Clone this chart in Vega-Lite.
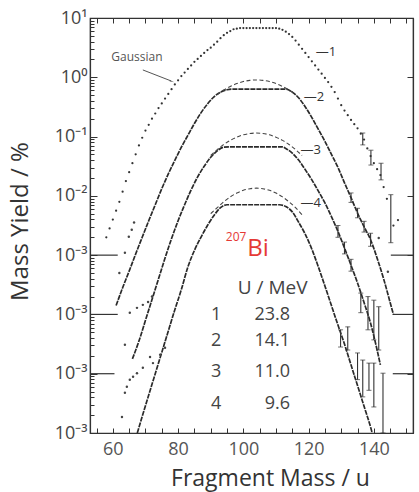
{
 "$schema": "https://vega.github.io/schema/vega-lite/v6.json",
 "width": 323, "height": 415,
 "autosize": {"type": "none"},
 "padding": {"left": 90, "top": 18, "right": 6, "bottom": 59},
 "background": "white",
 "config": {"view": {"stroke": "#333", "strokeWidth": 1.2}, "font": "Open Sans"},
 "datasets": {
  "c1": [
   {"m":58,"y":2.0e-3},{"m":59,"y":2.82e-3},{"m":60,"y":3.98e-3},{"m":61,"y":5.62e-3},{"m":62,"y":7.94e-3},
   {"m":63,"y":1.175e-2},{"m":64,"y":1.78e-2},{"m":65,"y":2.51e-2},{"m":66,"y":3.55e-2},{"m":67,"y":5.01e-2},
   {"m":68,"y":7.08e-2},{"m":69,"y":9.55e-2},{"m":70,"y":0.126},{"m":71,"y":0.158},{"m":72,"y":0.2},
   {"m":73,"y":0.245},{"m":74,"y":0.302},{"m":75,"y":0.363},{"m":76,"y":0.437},{"m":77,"y":0.525},
   {"m":78,"y":0.631},{"m":79,"y":0.759},{"m":80,"y":0.891},{"m":81,"y":1.047},{"m":82,"y":1.202},
   {"m":83,"y":1.38},{"m":84,"y":1.585},{"m":85,"y":1.82},{"m":86,"y":2.04},{"m":87,"y":2.29},
   {"m":88,"y":2.57},{"m":89,"y":2.88},{"m":90,"y":3.16},{"m":91,"y":3.55},{"m":92,"y":3.98},
   {"m":93,"y":4.57},{"m":94,"y":5.13},{"m":95,"y":5.62},{"m":96,"y":6.03},{"m":97,"y":6.46},
   {"m":98,"y":6.61},{"m":99,"y":6.76},{"m":100,"y":6.76},{"m":101,"y":6.76},{"m":102,"y":6.76},
   {"m":103,"y":6.76},{"m":104,"y":6.76},{"m":105,"y":6.76},{"m":106,"y":6.76},{"m":107,"y":6.76},
   {"m":108,"y":6.76},{"m":109,"y":6.76},{"m":110,"y":6.76},{"m":111,"y":6.61},{"m":112,"y":6.31},
   {"m":113,"y":5.89},{"m":114,"y":5.37},{"m":115,"y":4.79},{"m":116,"y":4.17},{"m":117,"y":3.55},
   {"m":118,"y":3.02},{"m":119,"y":2.57},{"m":120,"y":2.19},{"m":121,"y":1.86},{"m":122,"y":1.585},
   {"m":123,"y":1.35},{"m":124,"y":1.148},{"m":125,"y":0.977},{"m":126,"y":0.832},{"m":127,"y":0.692},
   {"m":128,"y":0.562},{"m":129,"y":0.437},{"m":130,"y":0.339},{"m":131,"y":0.275},{"m":132,"y":0.229},
   {"m":133,"y":0.191},{"m":134,"y":0.162},{"m":135,"y":0.138},{"m":136,"y":0.112},{"m":137,"y":0.0891},
   {"m":138,"y":0.0631},{"m":139,"y":0.0468},{"m":140,"y":0.0355},{"m":141,"y":0.0282},{"m":142,"y":0.0224},
   {"m":143,"y":0.0141},{"m":144,"y":8.91e-3},{"m":146,"y":3.16e-3},{"m":147.4,"y":3.9e-3}
  ],
  "fit": [
   {"c":2,"m":61,"y":1.41e-4},{"c":2,"m":63,"y":2.82e-4},{"c":2,"m":65,"y":5.37e-4},{"c":2,"m":67,"y":1.047e-3},
   {"c":2,"m":69,"y":2.0e-3},{"c":2,"m":71,"y":3.8e-3},{"c":2,"m":73,"y":7.08e-3},{"c":2,"m":75,"y":1.32e-2},
   {"c":2,"m":77,"y":2.34e-2},{"c":2,"m":79,"y":3.98e-2},{"c":2,"m":81,"y":6.61e-2},{"c":2,"m":83,"y":0.105},
   {"c":2,"m":85,"y":0.166},{"c":2,"m":87,"y":0.251},{"c":2,"m":89,"y":0.355},{"c":2,"m":91,"y":0.468},
   {"c":2,"m":93,"y":0.562},{"c":2,"m":95,"y":0.617},{"c":2,"m":97,"y":0.631},{"c":2,"m":105,"y":0.631},
   {"c":2,"m":113,"y":0.631},{"c":2,"m":115,"y":0.562},{"c":2,"m":117,"y":0.447},{"c":2,"m":119,"y":0.316},
   {"c":2,"m":121,"y":0.209},{"c":2,"m":123,"y":0.132},{"c":2,"m":125,"y":0.0832},{"c":2,"m":127,"y":0.0501},
   {"c":2,"m":129,"y":0.0302},{"c":2,"m":131,"y":0.0166},{"c":2,"m":133,"y":9.33e-3},{"c":2,"m":135,"y":5.13e-3},
   {"c":2,"m":137,"y":3.02e-3},{"c":2,"m":139,"y":1.82e-3},{"c":2,"m":141,"y":8.91e-4},{"c":2,"m":143,"y":3.98e-4},
   {"c":2,"m":145,"y":1.585e-4},{"c":2,"m":146,"y":1.0e-4},
   {"c":3,"m":66,"y":1.78e-5},{"c":3,"m":68,"y":3.55e-5},{"c":3,"m":70,"y":7.94e-5},{"c":3,"m":72,"y":1.78e-4},
   {"c":3,"m":74,"y":3.98e-4},{"c":3,"m":76,"y":8.91e-4},{"c":3,"m":78,"y":1.905e-3},{"c":3,"m":80,"y":3.8e-3},
   {"c":3,"m":82,"y":7.08e-3},{"c":3,"m":84,"y":1.26e-2},{"c":3,"m":86,"y":2.09e-2},{"c":3,"m":88,"y":3.16e-2},
   {"c":3,"m":90,"y":4.47e-2},{"c":3,"m":92,"y":5.75e-2},{"c":3,"m":94,"y":6.61e-2},{"c":3,"m":96,"y":6.68e-2},
   {"c":3,"m":104,"y":6.68e-2},{"c":3,"m":112,"y":6.68e-2},{"c":3,"m":113,"y":6.31e-2},{"c":3,"m":115,"y":5.25e-2},
   {"c":3,"m":117,"y":3.98e-2},{"c":3,"m":119,"y":2.75e-2},{"c":3,"m":121,"y":1.86e-2},{"c":3,"m":123,"y":1.2e-2},
   {"c":3,"m":125,"y":7.59e-3},{"c":3,"m":127,"y":4.47e-3},{"c":3,"m":129,"y":2.51e-3},{"c":3,"m":131,"y":1.32e-3},
   {"c":3,"m":133,"y":6.76e-4},{"c":3,"m":135,"y":3.39e-4},{"c":3,"m":137,"y":1.585e-4},{"c":3,"m":139,"y":7.08e-5},
   {"c":3,"m":141,"y":2.51e-5},{"c":3,"m":142,"y":1.41e-5},
   {"c":4,"m":67.5,"y":1.0e-6},{"c":4,"m":69,"y":1.905e-6},{"c":4,"m":71,"y":4.37e-6},{"c":4,"m":73,"y":1.0e-5},
   {"c":4,"m":75,"y":2.29e-5},{"c":4,"m":77,"y":5.25e-5},{"c":4,"m":79,"y":1.2e-4},{"c":4,"m":81,"y":2.63e-4},
   {"c":4,"m":83,"y":6.31e-4},{"c":4,"m":85,"y":1.2e-3},{"c":4,"m":87,"y":2.0e-3},{"c":4,"m":89,"y":3.16e-3},
   {"c":4,"m":91,"y":4.68e-3},{"c":4,"m":93,"y":6.31e-3},{"c":4,"m":95,"y":7.08e-3},{"c":4,"m":103,"y":7.08e-3},
   {"c":4,"m":111,"y":7.08e-3},{"c":4,"m":113,"y":6.61e-3},{"c":4,"m":115,"y":5.37e-3},{"c":4,"m":117,"y":3.55e-3},
   {"c":4,"m":119,"y":2.24e-3},{"c":4,"m":121,"y":1.26e-3},{"c":4,"m":123,"y":6.31e-4},{"c":4,"m":125,"y":3.02e-4},
   {"c":4,"m":127,"y":1.41e-4},{"c":4,"m":129,"y":6.61e-5},{"c":4,"m":131,"y":3.16e-5},{"c":4,"m":133,"y":1.41e-5},
   {"c":4,"m":135,"y":6.31e-6},{"c":4,"m":137,"y":2.82e-6},{"c":4,"m":139,"y":1.26e-6},{"c":4,"m":139.5,"y":1.0e-6}
  ],
  "gauss": [
   {"c":2,"m":92,"y":0.513},{"c":2,"m":94,"y":0.61},{"c":2,"m":96,"y":0.701},{"c":2,"m":98,"y":0.783},
   {"c":2,"m":100,"y":0.847},{"c":2,"m":102,"y":0.887},{"c":2,"m":104,"y":0.902},{"c":2,"m":106,"y":0.887},
   {"c":2,"m":108,"y":0.847},{"c":2,"m":110,"y":0.783},{"c":2,"m":112,"y":0.701},{"c":2,"m":114,"y":0.61},
   {"c":2,"m":116,"y":0.513},
   {"c":3,"m":90,"y":0.0479},{"c":3,"m":92,"y":0.0603},{"c":3,"m":94,"y":0.0735},{"c":3,"m":96,"y":0.0863},
   {"c":3,"m":98,"y":0.0977},{"c":3,"m":100,"y":0.107},{"c":3,"m":102,"y":0.1127},{"c":3,"m":104,"y":0.1148},
   {"c":3,"m":106,"y":0.1127},{"c":3,"m":108,"y":0.107},{"c":3,"m":110,"y":0.0977},{"c":3,"m":112,"y":0.0863},
   {"c":3,"m":114,"y":0.0735},{"c":3,"m":116,"y":0.0603},{"c":3,"m":118,"y":0.0479},
   {"c":4,"m":90,"y":5.01e-3},{"c":4,"m":92,"y":6.31e-3},{"c":4,"m":94,"y":7.94e-3},{"c":4,"m":96,"y":9.62e-3},
   {"c":4,"m":98,"y":1.114e-2},{"c":4,"m":100,"y":1.239e-2},{"c":4,"m":102,"y":1.321e-2},{"c":4,"m":104,"y":1.349e-2},
   {"c":4,"m":106,"y":1.321e-2},{"c":4,"m":108,"y":1.239e-2},{"c":4,"m":110,"y":1.114e-2},{"c":4,"m":112,"y":9.62e-3},
   {"c":4,"m":114,"y":7.94e-3},{"c":4,"m":116,"y":6.31e-3},{"c":4,"m":118,"y":4.79e-3}
  ],
  "tail": [
   {"m":62,"y":5.0e-4},{"m":63.7,"y":1.1e-3},{"m":64.9,"y":2.04e-3},{"m":65.8,"y":2.69e-3},{"m":66.5,"y":3.55e-3},
   {"m":63.7,"y":3.09e-5},{"m":65.2,"y":1.07e-4},{"m":67.4,"y":1.29e-4},{"m":69.2,"y":1.45e-4},{"m":70.8,"y":1.62e-4},{"m":72,"y":2.0e-4},
   {"m":62.8,"y":1.86e-6},{"m":63.7,"y":4.79e-6},{"m":64.3,"y":6.03e-6},{"m":65.2,"y":7.94e-6},{"m":66.2,"y":8.91e-6},
   {"m":67.4,"y":1.02e-5},{"m":69.2,"y":1.26e-5},{"m":71.4,"y":1.91e-5},{"m":72.3,"y":1.51e-5},{"m":74.5,"y":2.09e-5},{"m":76,"y":2.75e-5},
   {"m":141.5,"y":1.95e-3},{"m":144.3,"y":5.25e-4}
  ],
  "err": [
   {"m":136.6,"lo":0.0724,"hi":0.1148},{"m":139.1,"lo":0.0331,"hi":0.0589},{"m":142.2,"lo":0.0186,"hi":0.0355},{"m":145.2,"lo":1.62e-3,"hi":1.047e-2},
   {"m":133,"lo":7.76e-3,"hi":1.12e-2},{"m":135,"lo":4.27e-3,"hi":6.17e-3},{"m":137,"lo":2.45e-3,"hi":3.72e-3},{"m":139,"lo":1.41e-3,"hi":2.34e-3},
   {"m":129,"lo":2.0e-3,"hi":3.16e-3},{"m":131,"lo":1.05e-3,"hi":1.66e-3},{"m":133,"lo":5.37e-4,"hi":8.5e-4},
   {"m":136,"lo":1.07e-4,"hi":2.29e-4},{"m":138.2,"lo":5.5e-5,"hi":2.0e-4},{"m":140,"lo":3.72e-5,"hi":1.74e-4},{"m":141.5,"lo":2.51e-5,"hi":1.35e-4},
   {"m":129.8,"lo":2.82e-5,"hi":5.5e-5},{"m":132,"lo":2.51e-5,"hi":6.17e-5},{"m":135,"lo":7.94e-6,"hi":2.24e-5},{"m":136.6,"lo":4.07e-6,"hi":1.7e-5},
   {"m":138.5,"lo":5.25e-6,"hi":1.51e-5},{"m":140,"lo":2.75e-6,"hi":1.51e-5},{"m":142.8,"lo":1.0e-6,"hi":1.02e-5}
  ],
  "marks": [
   {"y":1e-3,"a":53,"b":61.5},{"y":1e-4,"a":53,"b":61.5},{"y":1e-5,"a":53,"b":60.5},
   {"y":1e-3,"a":145.2,"b":152},{"y":1e-4,"a":145.8,"b":152},{"y":1e-5,"a":145.8,"b":152}
  ]
 },
 "layer": [
  {
   "data": {"name": "c1"},
   "mark": {"type": "circle", "size": 5, "color": "#333", "opacity": 1},
   "encoding": {
    "x": {"field": "m", "type": "quantitative", "scale": {"domain": [53, 152], "nice": false, "zero": false},
     "axis": {"title": "Fragment Mass / u", "values": [55,60,65,70,75,80,85,90,95,100,105,110,115,120,125,130,135,140,145,150],
      "labelExpr": "datum.value % 20 == 0 ? datum.label : ''", "tickSize": -5, "tickColor": "#333", "domainColor": "#333", "domainWidth": 1.2,
      "labelFont": "Open Sans", "labelFontSize": 18, "labelColor": "#555", "labelPadding": 12, "labelOverlap": false, "labelFlush": false,
      "grid": false, "titleFont": "Open Sans", "titleFontSize": 23, "titleFontWeight": "normal", "titleColor": "#333",
      "titleX": 180, "titleY": 45, "titleBaseline": "middle", "titleAlign": "center"}},
    "y": {"field": "y", "type": "quantitative", "scale": {"type": "log", "domain": [1e-6, 10], "nice": false},
     "axis": {"title": "Mass Yield / %", "values": [1e-6,2e-6,3e-6,4e-6,5e-6,6e-6,7e-6,8e-6,9e-6,1e-5,2e-5,3e-5,4e-5,5e-5,6e-5,7e-5,8e-5,9e-5,1e-4,2e-4,3e-4,4e-4,5e-4,6e-4,7e-4,8e-4,9e-4,1e-3,2e-3,3e-3,4e-3,5e-3,6e-3,7e-3,8e-3,9e-3,1e-2,2e-2,3e-2,4e-2,5e-2,6e-2,7e-2,8e-2,9e-2,0.1,0.2,0.3,0.4,0.5,0.6,0.7,0.8,0.9,1,2,3,4,5,6,7,8,9,10],
      "labelExpr": "abs(log(datum.value)/LN10 - round(log(datum.value)/LN10)) > 0.01 ? '' : round(log(datum.value)/LN10) == 1 ? '10¹' : round(log(datum.value)/LN10) == 0 ? '10⁰' : round(log(datum.value)/LN10) == -1 ? '10⁻¹' : round(log(datum.value)/LN10) == -2 ? '10⁻²' : '10⁻³'",
      "tickSize": {"condition": {"test": "abs(log(datum.value)/LN10 - round(log(datum.value)/LN10)) < 0.01", "value": -7}, "value": -4},
      "tickColor": "#333", "domainColor": "#333", "domainWidth": 1.2,
      "labelFont": "Open Sans", "labelFontSize": 18, "labelColor": "#444", "labelPadding": 10, "labelOverlap": false, "labelFlush": false,
      "grid": false, "titleFont": "Open Sans", "titleFontSize": 24, "titleFontWeight": "normal", "titleColor": "#333",
      "titleX": -70, "titleY": 203, "titleBaseline": "middle", "titleAlign": "center", "titleAngle": 270}}
   }
  },
  {
   "data": {"name": "marks"},
   "mark": {"type": "rule", "color": "#333", "strokeWidth": 1.2},
   "encoding": {
    "x": {"field": "a", "type": "quantitative", "scale": {"domain": [53, 152], "nice": false, "zero": false},
     "axis": {"orient": "top", "title": null, "labels": false, "values": [55,60,65,70,75,80,85,90,95,100,105,110,115,120,125,130,135,140,145,150],
      "tickSize": -5, "tickColor": "#333", "domainColor": "#333", "domainWidth": 1.2, "grid": false}},
    "x2": {"field": "b"},
    "y": {"field": "y", "type": "quantitative", "scale": {"type": "log", "domain": [1e-6, 10], "nice": false},
     "axis": {"orient": "right", "title": null, "labels": false, "values": [1e-6,1e-5,1e-4,1e-3,1e-2,0.1,1,10],
      "tickSize": -6, "tickColor": "#333", "domainColor": "#333", "domainWidth": 1.2, "grid": false}}
   }
  },
  {
   "data": {"name": "fit"},
   "mark": {"type": "line", "color": "#2a2a2a", "strokeWidth": 1.7, "strokeDash": [5, 1], "interpolate": "monotone"},
   "encoding": {
    "x": {"field": "m", "type": "quantitative", "scale": {"domain": [53, 152], "nice": false, "zero": false}, "axis": null},
    "y": {"field": "y", "type": "quantitative", "scale": {"type": "log", "domain": [1e-6, 10], "nice": false}, "axis": null},
    "detail": {"field": "c"}
   }
  },
  {
   "data": {"name": "gauss"},
   "mark": {"type": "line", "color": "#444", "strokeWidth": 1.1, "strokeDash": [4, 2.5], "interpolate": "monotone"},
   "encoding": {
    "x": {"field": "m", "type": "quantitative", "scale": {"domain": [53, 152], "nice": false, "zero": false}, "axis": null},
    "y": {"field": "y", "type": "quantitative", "scale": {"type": "log", "domain": [1e-6, 10], "nice": false}, "axis": null},
    "detail": {"field": "c"}
   }
  },
  {
   "data": {"name": "tail"},
   "mark": {"type": "circle", "size": 6, "color": "#444", "opacity": 1},
   "encoding": {
    "x": {"field": "m", "type": "quantitative", "scale": {"domain": [53, 152], "nice": false, "zero": false}, "axis": null},
    "y": {"field": "y", "type": "quantitative", "scale": {"type": "log", "domain": [1e-6, 10], "nice": false}, "axis": null}
   }
  },
  {
   "data": {"name": "err"},
   "mark": {"type": "rule", "color": "#333", "strokeWidth": 1.1},
   "encoding": {
    "x": {"field": "m", "type": "quantitative", "scale": {"domain": [53, 152], "nice": false, "zero": false}, "axis": null},
    "y": {"field": "lo", "type": "quantitative", "scale": {"type": "log", "domain": [1e-6, 10], "nice": false}, "axis": null},
    "y2": {"field": "hi"}
   }
  },
  {
   "data": {"name": "err"},
   "mark": {"type": "tick", "orient": "horizontal", "color": "#333", "size": 5, "thickness": 1},
   "encoding": {
    "x": {"field": "m", "type": "quantitative", "scale": {"domain": [53, 152], "nice": false, "zero": false}, "axis": null},
    "y": {"field": "lo", "type": "quantitative", "scale": {"type": "log", "domain": [1e-6, 10], "nice": false}, "axis": null}
   }
  },
  {
   "data": {"name": "err"},
   "mark": {"type": "tick", "orient": "horizontal", "color": "#333", "size": 5, "thickness": 1},
   "encoding": {
    "x": {"field": "m", "type": "quantitative", "scale": {"domain": [53, 152], "nice": false, "zero": false}, "axis": null},
    "y": {"field": "hi", "type": "quantitative", "scale": {"type": "log", "domain": [1e-6, 10], "nice": false}, "axis": null}
   }
  },
  {
   "data": {"values": [{"m":122.2,"y":2.67,"t":"—1"},{"m":118.5,"y":0.467,"t":"—2"},{"m":117.5,"y":0.0594,"t":"—3"},{"m":117.5,"y":7.6e-3,"t":"—4"}]},
   "mark": {"type": "text", "align": "left", "baseline": "middle", "font": "Open Sans", "fontSize": 13, "color": "#333"},
   "encoding": {
    "x": {"field": "m", "type": "quantitative", "scale": {"domain": [53, 152], "nice": false, "zero": false}, "axis": null},
    "y": {"field": "y", "type": "quantitative", "scale": {"type": "log", "domain": [1e-6, 10], "nice": false}, "axis": null},
    "text": {"field": "t"}
   }
  },
  {
   "data": {"values": [{"m":67.4,"y":2.2,"t":"Gaussian"}]},
   "mark": {"type": "text", "align": "center", "baseline": "middle", "font": "Open Sans", "fontSize": 12, "color": "#555"},
   "encoding": {
    "x": {"field": "m", "type": "quantitative", "scale": {"domain": [53, 152], "nice": false, "zero": false}, "axis": null},
    "y": {"field": "y", "type": "quantitative", "scale": {"type": "log", "domain": [1e-6, 10], "nice": false}, "axis": null},
    "text": {"field": "t"}
   }
  },
  {
   "data": {"values": [{"m":69.2,"y":1.33,"m2":77.8,"y2":0.87}]},
   "mark": {"type": "rule", "color": "#555", "strokeWidth": 1},
   "encoding": {
    "x": {"field": "m", "type": "quantitative", "scale": {"domain": [53, 152], "nice": false, "zero": false}, "axis": null},
    "y": {"field": "y", "type": "quantitative", "scale": {"type": "log", "domain": [1e-6, 10], "nice": false}, "axis": null},
    "x2": {"field": "m2"},
    "y2": {"field": "y2"}
   }
  },
  {
   "data": {"values": [{"m":77.9,"y":0.86}]},
   "mark": {"type": "point", "shape": "wedge", "filled": true, "size": 30, "angle": 110, "color": "#555", "opacity": 1},
   "encoding": {
    "x": {"field": "m", "type": "quantitative", "scale": {"domain": [53, 152], "nice": false, "zero": false}, "axis": null},
    "y": {"field": "y", "type": "quantitative", "scale": {"type": "log", "domain": [1e-6, 10], "nice": false}, "axis": null}
   }
  },
  {
   "data": {"values": [{"m":97.8,"y":2.04e-3,"t":"207"}]},
   "mark": {"type": "text", "align": "center", "baseline": "middle", "font": "Open Sans", "fontSize": 12, "color": "#e53935"},
   "encoding": {
    "x": {"field": "m", "type": "quantitative", "scale": {"domain": [53, 152], "nice": false, "zero": false}, "axis": null},
    "y": {"field": "y", "type": "quantitative", "scale": {"type": "log", "domain": [1e-6, 10], "nice": false}, "axis": null},
    "text": {"field": "t"}
   }
  },
  {
   "data": {"values": [{"m":104.5,"y":1.26e-3,"t":"Bi"}]},
   "mark": {"type": "text", "align": "center", "baseline": "middle", "font": "Open Sans", "fontSize": 24, "color": "#e53935"},
   "encoding": {
    "x": {"field": "m", "type": "quantitative", "scale": {"domain": [53, 152], "nice": false, "zero": false}, "axis": null},
    "y": {"field": "y", "type": "quantitative", "scale": {"type": "log", "domain": [1e-6, 10], "nice": false}, "axis": null},
    "text": {"field": "t"}
   }
  },
  {
   "data": {"values": [{"m":109,"y":2.82e-4,"t":"U / MeV"}]},
   "mark": {"type": "text", "align": "center", "baseline": "middle", "font": "Open Sans", "fontSize": 19, "color": "#444"},
   "encoding": {
    "x": {"field": "m", "type": "quantitative", "scale": {"domain": [53, 152], "nice": false, "zero": false}, "axis": null},
    "y": {"field": "y", "type": "quantitative", "scale": {"type": "log", "domain": [1e-6, 10], "nice": false}, "axis": null},
    "text": {"field": "t"}
   }
  },
  {
   "data": {"values": [{"m":91.7,"y":9.82e-5,"t":"1"},{"m":91.7,"y":3.57e-5,"t":"2"},{"m":91.7,"y":1.07e-5,"t":"3"},{"m":91.7,"y":3.09e-6,"t":"4"}]},
   "mark": {"type": "text", "align": "center", "baseline": "middle", "font": "Open Sans", "fontSize": 18, "color": "#444"},
   "encoding": {
    "x": {"field": "m", "type": "quantitative", "scale": {"domain": [53, 152], "nice": false, "zero": false}, "axis": null},
    "y": {"field": "y", "type": "quantitative", "scale": {"type": "log", "domain": [1e-6, 10], "nice": false}, "axis": null},
    "text": {"field": "t"}
   }
  },
  {
   "data": {"values": [{"m":114.3,"y":9.82e-5,"t":"23.8"},{"m":114.3,"y":3.57e-5,"t":"14.1"},{"m":114.3,"y":1.07e-5,"t":"11.0"},{"m":114.3,"y":3.09e-6,"t":"9.6"}]},
   "mark": {"type": "text", "align": "right", "baseline": "middle", "font": "Open Sans", "fontSize": 18, "color": "#444"},
   "encoding": {
    "x": {"field": "m", "type": "quantitative", "scale": {"domain": [53, 152], "nice": false, "zero": false}, "axis": null},
    "y": {"field": "y", "type": "quantitative", "scale": {"type": "log", "domain": [1e-6, 10], "nice": false}, "axis": null},
    "text": {"field": "t"}
   }
  }
 ],
 "resolve": {"axis": {"x": "independent", "y": "independent"}}
}
